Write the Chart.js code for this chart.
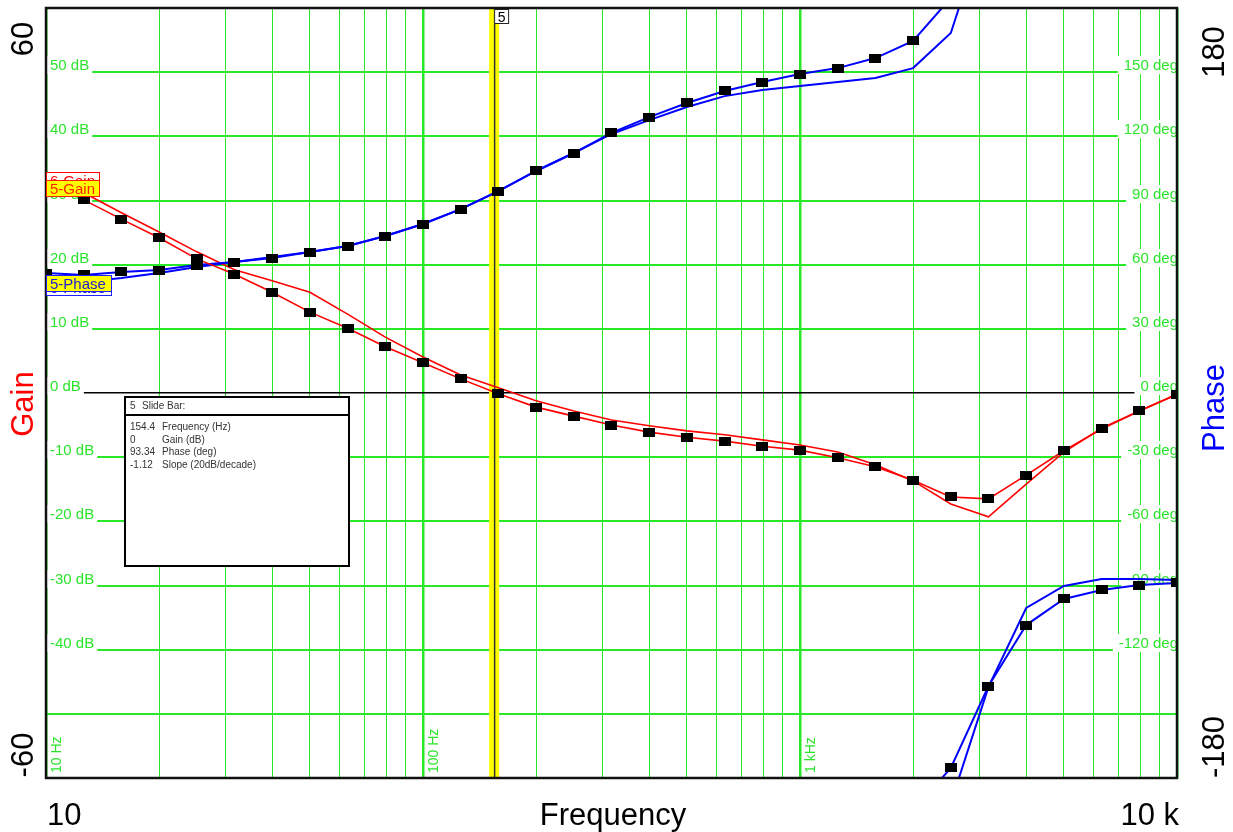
<!DOCTYPE html>
<html lang="en">
<head>
<meta charset="UTF-8">
<title>Bode</title>
<script src="https://cdn.jsdelivr.net/npm/chart.js"></script>
<style>
  body { margin: 0; background: #fff; }
  .wrap { width: 1233px; height: 832px; }
</style>
</head>
<body>
<div class="wrap"><canvas id="g" width="1233" height="832"></canvas></div>
<script>
  // sample frequencies (Hz), 10 points per decade
  const freq = [10, 12.59, 15.85, 19.95, 25.12, 31.62, 39.81, 50.12, 63.1, 79.43,
    100, 125.9, 158.5, 199.5, 251.2, 316.2, 398.1, 501.2, 631, 794.3,
    1000, 1259, 1585, 1995, 2512, 3162, 3981, 5012, 6310, 7943, 10000];

  // trace 5 (with markers) and trace 6, gain in dB
  const gain5 = [33.7, 30.1, 27.1, 24.2, 20.9, 18.5, 15.7, 12.6, 10.1, 7.2,
    4.7, 2.2, -0.1, -2.2, -3.6, -5.0, -6.1, -6.9, -7.5, -8.3,
    -8.9, -10.1, -11.5, -13.6, -16.2, -16.5, -12.8, -9.0, -5.6, -2.8, -0.2];
  const gain6 = [34.4, 31.2, 28.1, 25.1, 22.0, 19.2, 17.5, 15.7, 12.3, 8.7,
    5.6, 2.8, 0.8, -1.2, -2.8, -4.2, -5.1, -5.9, -6.5, -7.3,
    -8.1, -9.2, -11.2, -13.7, -17.3, -19.3, -14.2, -9.2, -5.5, -2.8, -0.2];

  // phase in deg, as shown (wraps at +/-180)
  const phase5 = [56.1, 55.2, 56.6, 57.5, 59.8, 61.2, 63.1, 65.9, 68.7, 73.4,
    79.0, 86.0, 94.4, 103.8, 112.2, 121.6, 129.0, 135.6, 141.2, 145.4,
    149.1, 151.9, 156.6, 164.6, -175.3, -137.0, -108.5, -96.3, -92.1, -89.8, -88.8];
  const phase6 = [49.6, 51.9, 53.8, 56.1, 58.9, 61.2, 63.6, 65.9, 68.7, 73.4,
    79.0, 86.0, 94.4, 103.8, 112.2, 121.1, 127.6, 133.7, 138.8, 141.7,
    143.5, 145.4, 147.3, 151.9, 168.3, -137.4, -100.5, -90.2, -87.0, -87.0, -87.4];

  const xTicks = [10, 20, 30, 40, 50, 60, 70, 80, 90, 100, 200, 300, 400, 500, 600, 700, 800, 900,
    1000, 2000, 3000, 4000, 5000, 6000, 7000, 8000, 9000, 10000];
  const gainLabels = [50, 40, 30, 20, 10, 0, -10, -20, -30, -40];
  const phaseLabels = [150, 120, 90, 60, 30, 0, -30, -60, -90, -120];
  const freqLabels = [[10, '10 Hz'], [100, '100 Hz'], [1000, '1 kHz']];

  const cursorFreq = 154.4;
  const infoRows = [['154.4', 'Frequency (Hz)'], ['0', 'Gain (dB)'], ['93.34', 'Phase (deg)'], ['-1.12', 'Slope (20dB/decade)']];

  const FONT = '"Liberation Sans", Arial, sans-serif';
  const grn = 'rgb(40,232,40)';
  const txtGrn = 'rgb(45,228,45)';

  function unwrap(a) {
    let k = 0;
    return a.map((v, i) => {
      if (i && v - a[i - 1] < -180) k += 360;
      return v + k;
    });
  }
  const pts = (ys, d) => freq.map((f, i) => ({ x: f, y: ys[i] + (d || 0) }));

  const mk = document.createElement('canvas');
  mk.width = 12; mk.height = 9;
  mk.getContext('2d').fillRect(0, 0, 12, 9);

  function ds(data, col, w, ax, marks) {
    return {
      data: data, borderColor: col, borderWidth: w, yAxisID: ax, tension: 0,
      pointStyle: marks ? mk : 'circle', pointRadius: marks ? 5 : 0, fill: false
    };
  }

  const p5 = unwrap(phase5), p6 = unwrap(phase6);

  function rot(ctx, t, x, y) {
    ctx.save();
    ctx.translate(x, y);
    ctx.rotate(-Math.PI / 2);
    ctx.fillText(t, 0, 0);
    ctx.restore();
  }

  function tag(ctx, t, x0, y0, w, h, fill, stroke, col) {
    ctx.fillStyle = fill;
    ctx.fillRect(x0, y0, w, h);
    ctx.strokeStyle = stroke;
    ctx.lineWidth = 1;
    ctx.strokeRect(x0 + 0.5, y0 + 0.5, w - 1, h - 1);
    ctx.fillStyle = col;
    ctx.fillText(t, x0 + 4, y0 + h - 3);
  }

  const deco = {
    id: 'deco',
    beforeDatasetsDraw(c) {
      const x = c.ctx, a = c.chartArea, sy = c.scales.y, sp = c.scales.y2, sx = c.scales.x;
      x.save();
      x.font = '15px ' + FONT;
      x.textBaseline = 'alphabetic';
      gainLabels.forEach(v => {
        const py = Math.round(sy.getPixelForValue(v));
        const t = v + ' dB', w = x.measureText(t).width;
        x.fillStyle = '#fff';
        x.fillRect(a.left, py - 16, w + 7, 18);
        x.fillStyle = txtGrn;
        x.textAlign = 'left';
        x.fillText(t, a.left + 4, py - 2);
      });
      phaseLabels.forEach(v => {
        const py = Math.round(sp.getPixelForValue(v));
        const t = v + ' deg', w = x.measureText(t).width;
        x.fillStyle = '#fff';
        x.fillRect(a.right - w - 5, py - 16, w + 5, 18);
        x.fillStyle = txtGrn;
        x.textAlign = 'right';
        x.fillText(t, a.right + 1, py - 2);
      });
      x.font = '14px ' + FONT;
      x.textAlign = 'left';
      x.textBaseline = 'top';
      x.fillStyle = txtGrn;
      freqLabels.forEach(([f, t]) => rot(x, t, sx.getPixelForValue(f) + 4, a.bottom - 5));

      // slide bar
      const cx = sx.getPixelForValue(cursorFreq);
      x.fillStyle = '#ffff00';
      x.fillRect(cx - 5, a.top, 10, a.bottom - a.top);
      x.strokeStyle = '#333';
      x.lineWidth = 1.5;
      x.beginPath();
      x.moveTo(cx + 0.5, a.top);
      x.lineTo(cx + 0.5, a.bottom);
      x.stroke();
      x.restore();
    },
    afterDraw(c) {
      const x = c.ctx, a = c.chartArea, sx = c.scales.x;
      x.save();
      x.strokeStyle = '#111';
      x.lineWidth = 2.5;
      x.strokeRect(a.left, a.top, a.right - a.left, a.bottom - a.top);

      x.font = '15px ' + FONT;
      x.textAlign = 'left';
      x.textBaseline = 'alphabetic';
      tag(x, '6-Gain', 46, 172, 54, 17, '#fff', '#ff0000', '#ff0000');
      tag(x, '5-Gain', 46, 180, 54, 17, '#ffff00', '#ff2000', '#ff2000');
      tag(x, '6-Phase', 46, 279, 66, 17, '#fff', '#2020ff', '#2020d0');
      tag(x, '5-Phase', 46, 275, 66, 17, '#ffff00', '#2020ff', '#2020d0');

      // info box
      x.fillStyle = '#fff';
      x.fillRect(124, 396, 226, 171);
      x.strokeStyle = '#000';
      x.lineWidth = 2;
      x.strokeRect(125, 397, 224, 169);
      x.beginPath();
      x.moveTo(125, 415);
      x.lineTo(349, 415);
      x.stroke();
      x.font = '10px ' + FONT;
      x.fillStyle = '#333';
      x.fillText('5', 130, 409);
      x.fillText('Slide Bar:', 142, 409);
      infoRows.forEach((r, i) => {
        x.fillText(r[0], 130, 430 + i * 12.7);
        x.fillText(r[1], 162, 430 + i * 12.7);
      });

      // cursor tag
      const cx = sx.getPixelForValue(cursorFreq);
      x.fillStyle = '#fff';
      x.fillRect(cx, a.top + 1, 15, 15);
      x.strokeStyle = '#222';
      x.lineWidth = 1;
      x.strokeRect(cx + 0.5, a.top + 1.5, 14, 14);
      x.fillStyle = '#000';
      x.font = '14px ' + FONT;
      x.textAlign = 'center';
      x.fillText('5', cx + 7.5, a.top + 14);

      // outer axis text
      x.font = '31px ' + FONT;
      x.textAlign = 'center';
      x.textBaseline = 'alphabetic';
      x.fillStyle = '#000';
      rot(x, '60', 33, 39);
      rot(x, '-60', 33, 755);
      rot(x, '180', 1224, 52);
      rot(x, '-180', 1224, 747);
      x.fillStyle = '#ff0000';
      rot(x, 'Gain', 33, 404);
      x.fillStyle = '#0000ff';
      rot(x, 'Phase', 1224, 408);
      x.fillStyle = '#000';
      x.textAlign = 'left';
      x.fillText('10', 47, 825);
      x.textAlign = 'center';
      x.fillText('Frequency', 613, 825);
      x.textAlign = 'right';
      x.fillText('10 k', 1179, 825);
      x.restore();
    }
  };

  new Chart(document.getElementById('g'), {
    type: 'line',
    data: {
      datasets: [
        ds(pts(gain5), '#ff0000', 1.6, 'y', true),
        ds(pts(p5), '#0000ff', 2, 'y2', true),
        ds(pts(p5, -360), '#0000ff', 2, 'y2', true),
        ds(pts(gain6), '#ff0000', 1.6, 'y', false),
        ds(pts(p6), '#0000ff', 2, 'y2', false),
        ds(pts(p6, -360), '#0000ff', 2, 'y2', false)
      ]
    },
    options: {
      responsive: false,
      animation: false,
      events: [],
      layout: { padding: { left: 46, top: 8, right: 56, bottom: 54 } },
      plugins: { legend: { display: false }, tooltip: { enabled: false } },
      scales: {
        x: {
          type: 'logarithmic', min: 10, max: 10000,
          afterBuildTicks: s => { s.ticks = xTicks.map(v => ({ value: v })); },
          ticks: { display: false },
          border: { display: false },
          grid: {
            drawTicks: false,
            color: grn,
            lineWidth: ctx => [10, 100, 1000, 10000].includes(ctx.tick.value) ? 2.5 : 1
          }
        },
        y: {
          min: -60, max: 60,
          ticks: { display: false, stepSize: 10 },
          border: { display: false },
          grid: {
            drawTicks: false,
            color: ctx => ctx.tick.value === 0 ? '#000' : grn,
            lineWidth: ctx => ctx.tick.value === 0 ? 1.6 : 2
          }
        },
        y2: {
          position: 'right', min: -180, max: 180,
          ticks: { display: false },
          border: { display: false },
          grid: { display: false, drawTicks: false }
        }
      }
    },
    plugins: [deco]
  });
</script>
</body>
</html>
